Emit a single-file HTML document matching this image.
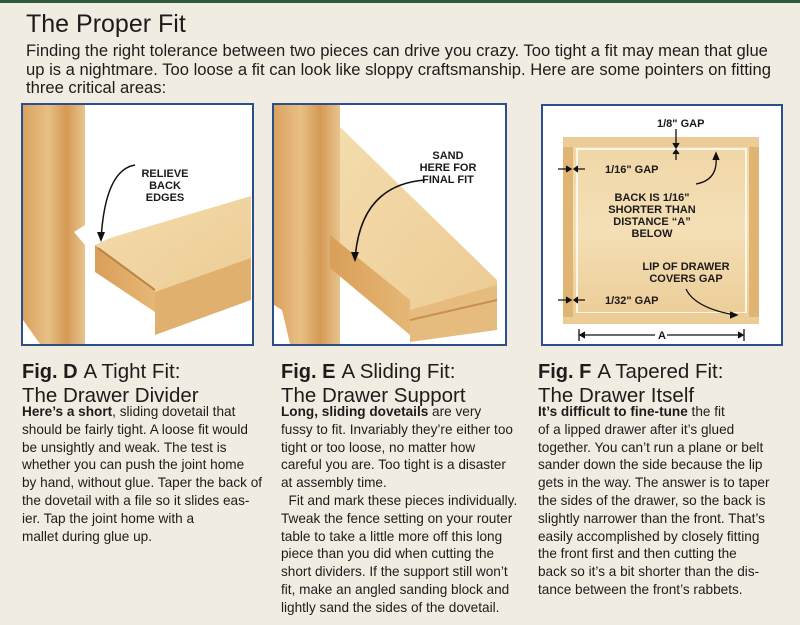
<!DOCTYPE html>
<html><head><meta charset="utf-8"><style>
body{margin:0;width:800px;height:625px;background:#f0ece2;position:relative;overflow:hidden;font-family:"Liberation Sans",sans-serif;color:#1e1c1a}
.top{position:absolute;left:0;top:0;width:800px;height:3px;background:#2f5a3c}
.t{position:absolute;left:26px;top:10px;font-size:25px}
.intro{position:absolute;left:26px;top:42px;font-size:16.6px;line-height:18.6px;white-space:nowrap}
.h{position:absolute;top:360px;font-size:20.5px;line-height:23px;white-space:nowrap}
.h b{font-size:20px;margin-right:6px}
.b{position:absolute;top:403px;font-size:13.6px;line-height:17.8px;white-space:nowrap}
.lbl{font-family:"Liberation Sans",sans-serif;font-weight:bold;font-size:11px;fill:#1a1a1a}
</style></head><body>
<div class="top"></div>
<div class="t">The Proper Fit</div>
<div class="intro">Finding the right tolerance between two pieces can drive you crazy. Too tight a fit may mean that glue<br>up is a nightmare. Too loose a fit can look like sloppy craftsmanship. Here are some pointers on fitting<br>three critical areas:</div>

<svg style="position:absolute;left:0;top:0" width="800" height="625">
<defs>
<linearGradient id="w1" x1="0" x2="1"><stop offset="0" stop-color="#d9a25e"/><stop offset=".4" stop-color="#e8bf85"/><stop offset=".7" stop-color="#d49a55"/><stop offset="1" stop-color="#e9c48e"/></linearGradient>
<linearGradient id="w2" x1="0" x2="1" y1="0" y2="1"><stop offset="0" stop-color="#f4dcad"/><stop offset="1" stop-color="#eccb93"/></linearGradient>
<linearGradient id="w3" x1="0" x2="1"><stop offset="0" stop-color="#d99f58"/><stop offset="1" stop-color="#e5b776"/></linearGradient>
<linearGradient id="wf" x1="0" x2="0" y1="0" y2="1"><stop offset="0" stop-color="#f0d6a6"/><stop offset=".5" stop-color="#f4dfb6"/><stop offset="1" stop-color="#ebcb95"/></linearGradient>
</defs>
<rect x="22" y="104" width="231" height="241" fill="#fff" stroke="#2b4f8a" stroke-width="2"/>
<path d="M23 105 H85 V225 L74 232 L85 245 V344 H40 L23 320 Z" fill="url(#w1)"/>
<path d="M110 238 L251 196 V262 L160 305 L150 300 L95 268 L95 245 Z" fill="url(#w2)"/>
<path d="M95 245 L155 290 L155 312 L95 272 Z" fill="url(#w3)"/>
<path d="M155 292 L251 258 V300 L155 335 Z" fill="#e0b06e"/>
<path d="M98 248 L155 290" stroke="#b98346" stroke-width="2"/>
<path d="M135 165 Q105 170 101 240" fill="none" stroke="#111" stroke-width="1.5"/>
<path d="M97 232 L101 242 L105 232 Z" fill="#111"/>
<text class="lbl" text-anchor="middle"><tspan x="165" y="177">RELIEVE</tspan><tspan x="165" y="189">BACK</tspan><tspan x="165" y="201">EDGES</tspan></text>
<rect x="273" y="104" width="233" height="241" fill="#fff" stroke="#2b4f8a" stroke-width="2"/>
<path d="M274 105 H340 V344 H290 L282 310 L274 305 Z" fill="url(#w1)"/>
<path d="M340 127 L497 280 V300 L410 325 L340 270 Z" fill="url(#w2)"/>
<path d="M330 235 L410 300 L410 335 L330 268 Z" fill="url(#w3)"/>
<path d="M410 310 L497 285 V330 L410 342 Z" fill="#e6bc7e"/>
<path d="M410 320 L497 300" stroke="#c79050" stroke-width="2"/>
<path d="M425 180 Q360 185 355 260" fill="none" stroke="#111" stroke-width="1.5"/>
<path d="M351 252 L355 262 L359 252 Z" fill="#111"/>
<text class="lbl" text-anchor="middle"><tspan x="448" y="159">SAND</tspan><tspan x="448" y="171">HERE FOR</tspan><tspan x="448" y="183">FINAL FIT</tspan></text>
<rect x="542" y="105" width="240" height="240" fill="#fff" stroke="#2b4f8a" stroke-width="2"/>
<rect x="563" y="137" width="196" height="187" fill="url(#wf)"/>
<rect x="563" y="137" width="10" height="180" fill="#e0b473"/>
<rect x="749" y="137" width="10" height="180" fill="#e0b473"/>
<rect x="563" y="137" width="196" height="10" fill="#ebcc96"/>
<path d="M577 149 H746 V313 H577 Z" fill="none" stroke="#fff" stroke-width="1.5"/>
<rect x="573" y="313" width="176" height="10" fill="#eccd98"/>
<g stroke="#111" stroke-width="1.3" fill="#111">
<path d="M676 129 V145 M676 160 V152"/><path d="M673 143 L676 148 L679 143 M673 154 L676 150 L679 154" fill="#111"/>
<path d="M558 169 H568 M585 169 H577"/><path d="M566 166 L571 169 L566 172 M578 166 L574 169 L578 172"/>
<path d="M558 300 H568 M585 300 H577"/><path d="M566 297 L571 300 L566 303 M578 297 L574 300 L578 303"/>
<path d="M579 329 V341 M744 329 V341 M580 335 H655 M667 335 H743"/><path d="M585 332 L580 335 L585 338 M738 332 L743 335 L738 338"/>
<path d="M696 184 Q718 180 716 157" fill="none"/><path d="M713 160 L716 153 L719 160"/>
<path d="M686 289 Q695 308 735 315" fill="none"/><path d="M730 312 L737 315 L730 318"/>
</g>
<text class="lbl" x="657" y="127">1/8" GAP</text>
<text class="lbl" x="605" y="173">1/16" GAP</text>
<text class="lbl" x="605" y="304">1/32" GAP</text>
<text class="lbl" x="658" y="339">A</text>
<text class="lbl" text-anchor="middle"><tspan x="652" y="201">BACK IS 1/16"</tspan><tspan x="652" y="213">SHORTER THAN</tspan><tspan x="652" y="225">DISTANCE “A”</tspan><tspan x="652" y="237">BELOW</tspan></text>
<text class="lbl" text-anchor="middle"><tspan x="686" y="270">LIP OF DRAWER</tspan><tspan x="686" y="282">COVERS GAP</tspan></text>
</svg>

<div class="h" style="left:22px"><b>Fig. D</b>A Tight Fit:<br>The Drawer Divider</div>
<div class="h" style="left:281px"><b>Fig. E</b>A Sliding Fit:<br>The Drawer Support</div>
<div class="h" style="left:538px"><b>Fig. F</b>A Tapered Fit:<br>The Drawer Itself</div>

<div class="b" style="left:22px"><b>Here’s a short</b>, sliding dovetail that<br>should be fairly tight. A loose fit would<br>be unsightly and weak. The test is<br>whether you can push the joint home<br>by hand, without glue. Taper the back of<br>the dovetail with a file so it slides eas-<br>ier. Tap the joint home with a<br>mallet during glue up.</div>
<div class="b" style="left:281px"><b>Long, sliding dovetails</b> are very<br>fussy to fit. Invariably they’re either too<br>tight or too loose, no matter how<br>careful you are. Too tight is a disaster<br>at assembly time.<br>&nbsp;&nbsp;Fit and mark these pieces individually.<br>Tweak the fence setting on your router<br>table to take a little more off this long<br>piece than you did when cutting the<br>short dividers. If the support still won’t<br>fit, make an angled sanding block and<br>lightly sand the sides of the dovetail.</div>
<div class="b" style="left:538px"><b>It’s difficult to fine-tune</b> the fit<br>of a lipped drawer after it’s glued<br>together. You can’t run a plane or belt<br>sander down the side because the lip<br>gets in the way. The answer is to taper<br>the sides of the drawer, so the back is<br>slightly narrower than the front. That’s<br>easily accomplished by closely fitting<br>the front first and then cutting the<br>back so it’s a bit shorter than the dis-<br>tance between the front’s rabbets.</div>
</body></html>
